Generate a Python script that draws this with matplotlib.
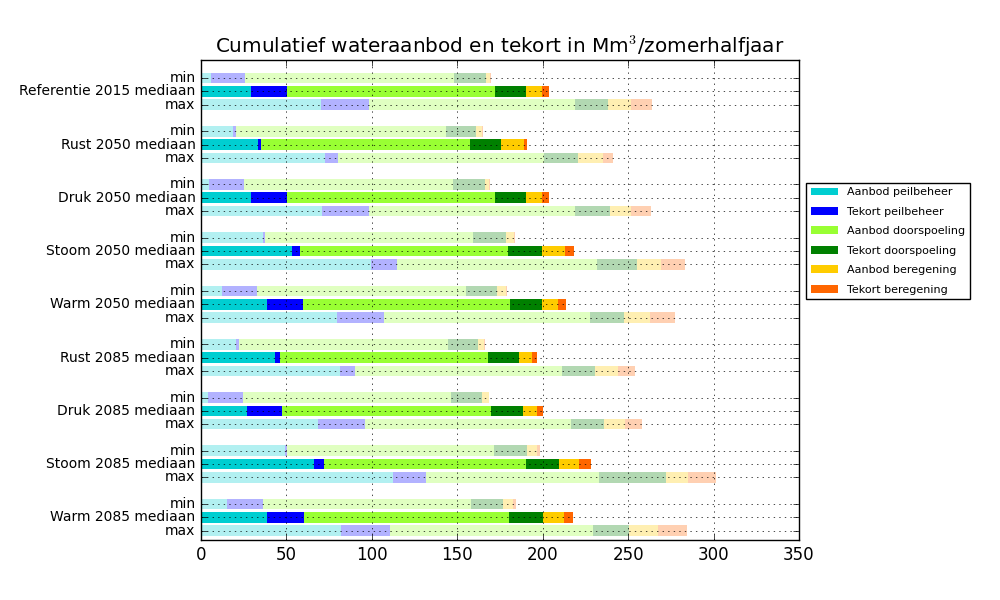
import matplotlib
matplotlib.use("Agg")
import matplotlib.pyplot as plt
import numpy as np

plt.style.use("classic")

scenarios = ["Referentie 2015", "Rust 2050", "Druk 2050", "Stoom 2050", "Warm 2050",
             "Rust 2085", "Druk 2085", "Stoom 2085", "Warm 2085"]
segments = ["Aanbod peilbeheer", "Tekort peilbeheer", "Aanbod doorspoeling",
            "Tekort doorspoeling", "Aanbod beregening", "Tekort beregening"]
colors = ["#00CED1", "#0000FF", "#99FF33", "#008000", "#FFCC00", "#FF6600"]

# segment lengths in Mm3, one row per scenario, one column per segment
vals_min = [
    [5.6, 20.4, 122.2, 18.5, 2.6, 0.4],
    [18.8, 1.8, 122.6, 18.0, 3.5, 0.4],
    [4.9, 20.1, 122.6, 18.5, 2.5, 0.7],
    [36.1, 1.2, 122.1, 18.9, 4.9, 0.4],
    [12.5, 20.2, 122.3, 18.2, 5.3, 0.5],
    [20.4, 1.6, 122.3, 18.1, 3.4, 0.7],
    [4.0, 20.3, 122.3, 18.1, 3.7, 0.2],
    [49.3, 1.2, 121.1, 19.4, 5.6, 2.1],
    [15.3, 20.8, 122.1, 18.3, 6.0, 1.8],
]
vals_med = [
    [29.0, 21.2, 121.9, 18.0, 9.7, 4.0],
    [33.4, 1.8, 122.3, 18.3, 13.2, 2.0],
    [29.0, 21.2, 121.9, 18.0, 9.7, 4.0],
    [53.2, 4.7, 121.8, 19.7, 13.6, 5.1],
    [38.4, 21.1, 121.4, 18.9, 9.3, 4.8],
    [43.5, 2.6, 122.0, 18.3, 7.6, 2.6],
    [27.1, 20.6, 122.3, 18.7, 8.1, 3.5],
    [66.2, 5.5, 118.4, 19.4, 11.6, 7.2],
    [38.9, 21.1, 120.4, 19.9, 12.0, 5.6],
]
vals_max = [
    [70.4, 27.7, 120.9, 19.2, 13.2, 12.5],
    [72.7, 7.4, 120.7, 19.8, 14.4, 6.4],
    [71.0, 27.1, 120.9, 20.1, 12.3, 12.0],
    [99.7, 14.8, 117.2, 23.2, 14.3, 14.3],
    [79.4, 27.5, 120.9, 19.7, 15.2, 14.8],
    [81.5, 8.5, 121.4, 19.2, 13.2, 10.2],
    [68.7, 27.1, 120.7, 19.6, 12.3, 9.9],
    [112.4, 19.0, 101.5, 39.1, 12.9, 16.7],
    [81.9, 28.5, 119.1, 21.2, 16.7, 17.3],
]

fig = plt.figure(figsize=(10, 6), dpi=100, facecolor="white")
ax = fig.add_axes([0.201, 0.1, 0.598, 0.8])

rows = [(vals_min, 0, 0.3), (vals_med, 1, 1.0), (vals_max, 2, 0.3)]
yticks, ylabels = [], []
for g, name in enumerate(scenarios):
    for vals, r, alpha in rows:
        y = 4 * g + r
        left = 0.0
        for s in range(len(segments)):
            w = vals[g][s]
            label = segments[s] if (g == 0 and r == 1) else None
            ax.barh(y, w, left=left, height=0.8, align="center", color=colors[s],
                    alpha=alpha, linewidth=0, edgecolor="none", label=label)
            left += w
        yticks.append(y)
        ylabels.append(["min", name + " mediaan", "max"][r])

ax.set_yticks(yticks)
ax.set_yticklabels(ylabels, fontsize=10)
ax.set_ylim(34.7, -1.35)
ax.set_xlim(0, 350)
ax.set_xticks(np.arange(0, 351, 50))
ax.tick_params(axis="x", labelsize=12)
ax.grid(True)
ax.set_title("Cumulatief wateraanbod en tekort in Mm$^3$/zomerhalfjaar", fontsize=14.4)

ax.legend(loc="upper left", bbox_to_anchor=(1.012, 0.744), borderaxespad=0,
          fontsize=8, labelspacing=0.85, handlelength=2.5, frameon=True)

fig.savefig("out.png", dpi=100, facecolor="white")
